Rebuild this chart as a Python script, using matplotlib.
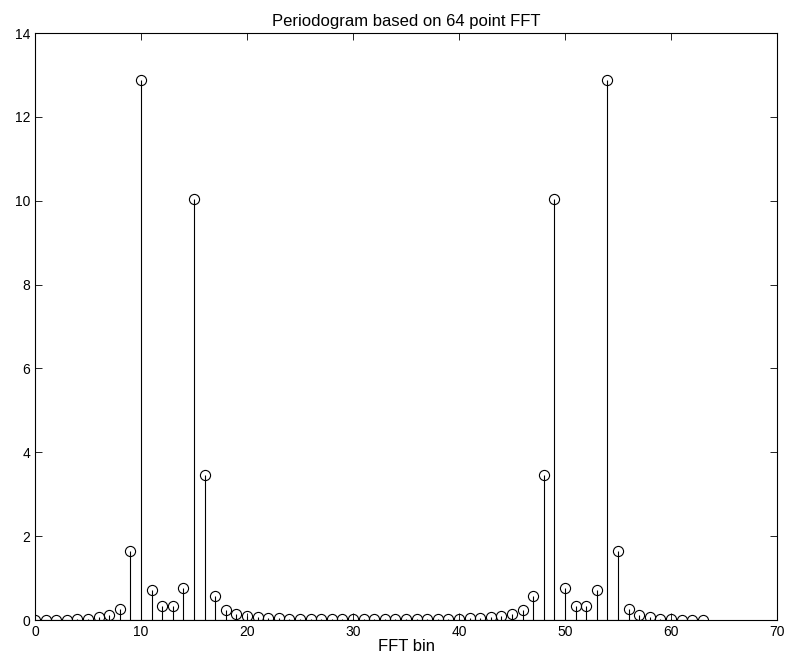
import matplotlib
matplotlib.use("agg")
import matplotlib.pyplot as plt
import numpy as np

# periodogram values per FFT bin
bins = list(range(64))
power = [0.00, 0.01, 0.01, 0.01, 0.02, 0.03, 0.06, 0.11,
         0.27, 1.65, 12.87, 0.72, 0.34, 0.34, 0.77, 10.03,
         3.47, 0.57, 0.25, 0.14, 0.09, 0.06, 0.05, 0.04,
         0.03, 0.03, 0.02, 0.02, 0.02, 0.02, 0.02, 0.02,
         0.02, 0.02, 0.02, 0.02, 0.02, 0.02, 0.02, 0.03,
         0.03, 0.04, 0.05, 0.06, 0.09, 0.14, 0.25, 0.57,
         3.47, 10.03, 0.77, 0.34, 0.34, 0.72, 12.87, 1.65,
         0.27, 0.11, 0.06, 0.03, 0.02, 0.01, 0.01, 0.01]

plt.rcParams["font.family"] = ["Liberation Sans", "DejaVu Sans"]
plt.rcParams["font.size"] = 10

fig = plt.figure(figsize=(7.88, 6.63), dpi=100)
ax = fig.add_axes([35/788, 43/663, 742/788, 587/663])

markers, stems, base = ax.stem(bins, power, linefmt="k-", markerfmt="ko", basefmt="k-")
stems.set_linewidth(0.8)
markers.set_markerfacecolor("none")
markers.set_markersize(7.3)
markers.set_markeredgewidth(0.8)
base.set_linewidth(0.8)

ax.set_xlim(0, 70)
ax.set_ylim(0, 14)
ax.set_xticks(np.arange(0, 71, 10))
ax.set_yticks(np.arange(0, 15, 2))
ax.tick_params(direction="in", top=True, right=True, length=5, width=0.6)
for s in ax.spines.values():
    s.set_linewidth(0.8)

ax.set_title("Periodogram based on 64 point FFT", fontsize=12, pad=5)
ax.set_xlabel("FFT bin", fontsize=12, labelpad=0)

fig.savefig("out.png")
